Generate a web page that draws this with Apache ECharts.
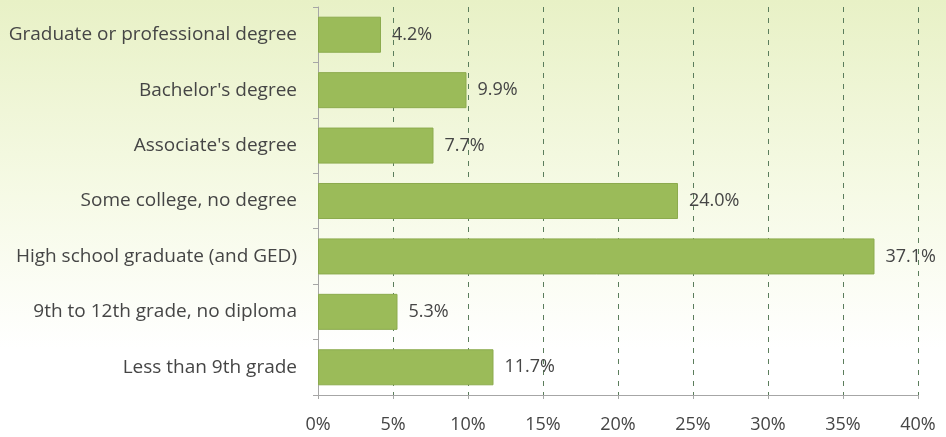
<!DOCTYPE html>
<html>
<head>
<meta charset="utf-8">
<script src="https://cdn.jsdelivr.net/npm/echarts@6/dist/echarts.min.js"></script>
<style>
html,body{margin:0;padding:0;}
#c{width:946px;height:437px;background:linear-gradient(to bottom,#e8f1c6 0%,#f6fae6 45%,#ffffff 80%,#ffffff 100%);}
</style>
</head>
<body>
<div id="c"></div>
<script>
var categories = [
  "Graduate or professional degree",
  "Bachelor's degree",
  "Associate's degree",
  "Some college, no degree",
  "High school graduate (and GED)",
  "9th to 12th grade, no diploma",
  "Less than 9th grade"
];
var values = [4.2, 9.9, 7.7, 24.0, 37.1, 5.3, 11.7];
var xTicks = [0, 5, 10, 15, 20, 25, 30, 35, 40];

var chart = echarts.init(document.getElementById('c'), null, {renderer: 'canvas'});
var font = 'Open Sans';
chart.setOption({
  animation: false,
  backgroundColor: 'transparent',
  grid: {left: 318, right: 28, top: 7, bottom: 42, containLabel: false},
  xAxis: {
    type: 'value',
    min: xTicks[0],
    max: xTicks[xTicks.length - 1],
    interval: 5,
    axisLine: {show: true, lineStyle: {color: '#a6a6a6', width: 1}},
    axisTick: {show: true, length: 4, lineStyle: {color: '#a6a6a6'}},
    axisLabel: {formatter: '{value}%', color: '#454545', fontSize: 18, fontFamily: font, margin: 21},
    splitLine: {show: true, lineStyle: {color: '#5b7d5c', type: [5, 6], width: 1}}
  },
  yAxis: {
    type: 'category',
    data: categories,
    inverse: true,
    axisLine: {show: true, lineStyle: {color: '#a6a6a6', width: 1}},
    axisTick: {show: true, length: 5, lineStyle: {color: '#a6a6a6'}},
    axisLabel: {color: '#454545', fontSize: 19, fontFamily: font, margin: 21},
    splitLine: {show: false}
  },
  series: [{
    type: 'bar',
    data: values,
    barCategoryGap: '35%',
    itemStyle: {color: '#9bbb59', borderColor: '#8cab4e', borderWidth: 1},
    label: {
      show: true,
      position: 'right',
      distance: 11,
      formatter: function (p) { return p.value.toFixed(1) + '%'; },
      color: '#454545',
      fontSize: 18,
      fontFamily: font
    }
  }]
});
</script>
</body>
</html>
